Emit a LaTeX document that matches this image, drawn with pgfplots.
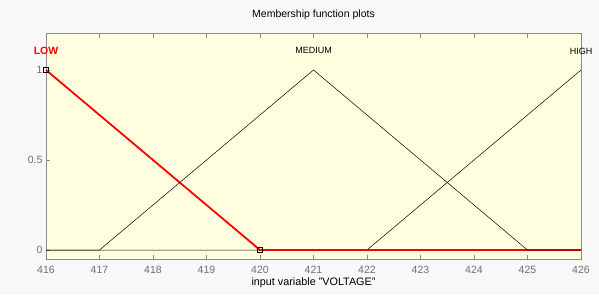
\documentclass[border=0pt]{standalone}
\usepackage{pgfplots}
\pgfplotsset{compat=1.18}
\usepackage{fontspec}
\setmainfont{Liberation Sans}
\definecolor{plotbg}{HTML}{FFFFE0}
\definecolor{outerbg}{HTML}{F8F8F8}
\definecolor{axgray}{HTML}{8A8A8A}
\definecolor{lblgray}{HTML}{707070}
\begin{document}
\begin{tikzpicture}
\path[use as bounding box, fill=outerbg] (0,0) rectangle (599pt,295pt);
\begin{axis}[
  at={(46pt,36pt)}, anchor=south west,
  scale only axis, width=535pt, height=225pt,
  xmin=416, xmax=426, ymin=-0.05, ymax=1.2,
  xtick={416,417,418,419,420,421,422,423,424,425,426},
  ytick={0,0.5,1},
  xtick pos=both, ytick pos=left,
  tick align=inside,
  major tick length=4pt,
  axis background/.style={fill=plotbg},
  axis line style={axgray, line width=1pt},
  tick style={axgray, line width=0.6pt},
  /pgf/number format/assume math mode=true,
  tick label style={font=\fontsize{10.5}{12}\selectfont, text=lblgray},
  xticklabel style={anchor=center, yshift=-11pt},
  title={Membership function plots},
  title style={at={(0.5,1)}, anchor=center, yshift=13pt, font=\fontsize{10.5}{12}\selectfont},
  xlabel={input variable "VOLTAGE"},
  xlabel style={at={(0.5,0)}, anchor=center, yshift=-24pt, font=\fontsize{10.8}{12}\selectfont},
  clip=false,
]
\addplot[black, line width=0.5pt] coordinates {(416,0) (422,0) (426,1)};
\addplot[red, line width=1.8pt] coordinates {(416,1) (420,0) (426,0)};
\addplot[black, line width=0.5pt] coordinates {(416,0) (417,0) (421,1) (425,0) (426,0)};
\addplot[only marks, mark=square, mark size=2.5pt, black, mark options={line width=0.5pt}] coordinates {(416,1) (420,0)};
\node[text=red, font=\bfseries\fontsize{10.5}{12}\selectfont] at (axis cs:416,1.106) {LOW};
\node[font=\fontsize{9}{11}\selectfont] at (axis cs:421,1.106) {MEDIUM};
\node[font=\fontsize{9}{11}\selectfont] at (axis cs:426,1.106) {HIGH};
\end{axis}
\end{tikzpicture}
\end{document}
